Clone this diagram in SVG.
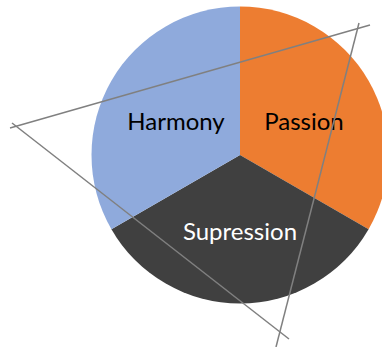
<svg xmlns="http://www.w3.org/2000/svg" width="382" height="347" viewBox="0 0 382 347">
  <style>
    .lbl { font-family: Lato, "Open Sans", "Liberation Sans", sans-serif; font-size: 24px; text-anchor: middle; }
    .dark { fill: #000000; }
    .light { fill: #ffffff; }
    .edge { stroke: #808080; stroke-width: 1.5; fill: none; }
  </style>
  <rect width="382" height="347" fill="#ffffff"/>
  <!-- pie: centre (240,155), radius 148.5 -->
  <g id="passion">
    <path d="M240,155 L240,6.5 A148.5,148.5 0 0 1 368.6,229.25 Z" fill="#ED7D31"/>
    <text class="lbl dark" x="304" y="130">Passion</text>
  </g>
  <g id="supression">
    <path d="M240,155 L368.6,229.25 A148.5,148.5 0 0 1 111.4,229.25 Z" fill="#404040"/>
    <text class="lbl light" x="240" y="240">Supression</text>
  </g>
  <g id="harmony">
    <path d="M240,155 L111.4,229.25 A148.5,148.5 0 0 1 240,6.5 Z" fill="#8FAADC"/>
    <text class="lbl dark" x="176" y="130">Harmony</text>
  </g>
  <g id="connectors">
    <line class="edge" x1="10" y1="128" x2="370" y2="25"/>
    <line class="edge" x1="12" y1="123" x2="289" y2="339"/>
    <line class="edge" x1="359" y1="23" x2="276" y2="347"/>
  </g>
</svg>
